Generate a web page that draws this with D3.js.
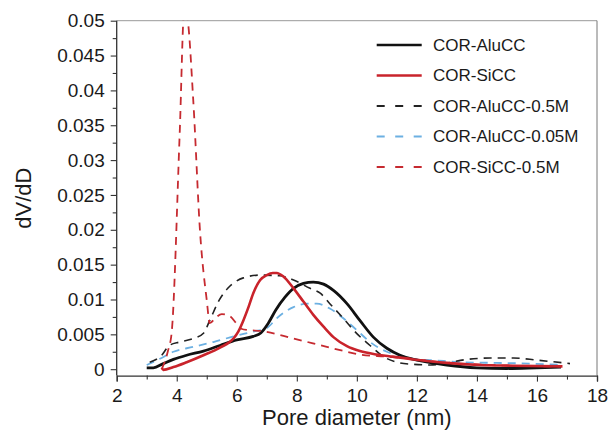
<!DOCTYPE html>
<html><head><meta charset="utf-8">
<script src="https://cdn.jsdelivr.net/npm/d3@7"></script>
<style>body{margin:0;background:#fff}svg{display:block}text{font-family:"Liberation Sans",Arial,sans-serif;fill:#1a1a1a}</style>
</head><body><svg id="c" width="609" height="430"></svg>
<script>
const seriesNames = ["COR-AluCC","COR-SiCC","COR-AluCC-0.5M","COR-AluCC-0.05M","COR-SiCC-0.5M"];
const seriesColors = ["#111111","#c9232b","#222222","#6cb0e2","#c62a30"];
const xTicks = [2,4,6,8,10,12,14,16,18];
const yTicks = [0,0.005,0.01,0.015,0.02,0.025,0.03,0.035,0.04,0.045,0.05];
const yTickLabels = ["0","0.005","0.01","0.015","0.02","0.025","0.03","0.035","0.04","0.045","0.05"];

const aluCC_x = [3.0,3.22,3.55,3.89,4.33,4.89,5.44,6.0,6.55,6.8,7.05,7.3,7.6,7.89,8.22,8.55,8.89,9.22,9.67,10.1,10.55,11.0,11.44,11.89,12.0,13.0,14.0,15.0,16.0,16.8];
const aluCC_y = [0.0002,0.0002,0.0008,0.0014,0.002,0.0026,0.0034,0.0042,0.0047,0.0052,0.0066,0.0085,0.0103,0.0116,0.0123,0.0125,0.0122,0.0113,0.0094,0.007,0.0046,0.003,0.002,0.0014,0.0013,0.0006,0.0002,0.0001,0.0002,0.0003];

const siCC_x = [3.5,3.55,3.89,4.33,4.89,5.44,5.89,6.05,6.22,6.39,6.55,6.78,7.0,7.2,7.33,7.55,7.89,8.22,8.55,8.89,9.22,9.67,10.1,10.67,11.2,11.9,13.0,14.1,15.2,16.85];
const siCC_y = [0.0002,-0.0001,0.0003,0.001,0.002,0.0031,0.0044,0.0054,0.007,0.0089,0.0109,0.0128,0.0135,0.0138,0.0138,0.0133,0.0116,0.0097,0.0078,0.0061,0.0046,0.0033,0.0026,0.0021,0.0018,0.0014,0.0009,0.0006,0.0005,0.0004];

const alu05_x = [3.1,3.5,3.75,4.1,4.55,4.9,5.1,5.4,5.7,6.22,6.78,7.44,7.89,8.44,8.78,9.1,9.55,10.0,10.44,10.89,11.44,11.9,12.44,13.0,13.66,14.44,15.22,16.0,17.1];
const alu05_y = [0.001,0.002,0.0034,0.0039,0.0044,0.0052,0.007,0.0098,0.0116,0.0131,0.0135,0.0134,0.0128,0.0116,0.0109,0.0094,0.0073,0.0051,0.0034,0.0018,0.0009,0.0007,0.0006,0.0009,0.0014,0.0016,0.0016,0.0013,0.0008];

const alu005_x = [3.0,3.44,3.89,4.55,5.22,5.89,6.55,7.0,7.33,7.89,8.33,8.66,9.1,9.55,10.0,10.44,11.0,11.44,12.0,12.44,13.55,14.66,15.77,16.85];
const alu005_y = [0.0006,0.0015,0.0025,0.0032,0.0039,0.0047,0.0054,0.0059,0.0073,0.0089,0.0094,0.0094,0.0087,0.0073,0.0056,0.0039,0.0025,0.002,0.0014,0.0013,0.001,0.0009,0.0008,0.0006];

const si05_x = [3.5,3.7,3.83,4.1,4.25,4.35,4.55,4.78,5.0,5.1,5.3,5.5,5.77,6.0,6.15,6.4,6.78,7.89,9.0,9.67,10.1,11.0,12.0,13.0,14.0,15.0,16.8];
const si05_y = [0.0,0.0025,0.0052,0.034,0.0515,0.0505,0.0386,0.0195,0.0099,0.0066,0.0074,0.0079,0.0076,0.0065,0.0058,0.0056,0.0055,0.0044,0.0032,0.0025,0.0021,0.0018,0.0014,0.0009,0.0007,0.0005,0.0004];

const seriesX = [aluCC_x, siCC_x, alu05_x, alu005_x, si05_x];
const seriesY = [aluCC_y, siCC_y, alu05_y, alu005_y, si05_y];
const seriesDash = [null, null, "8,6", "8,6", "8,6"];
const seriesWidth = [2.8, 2.6, 1.6, 1.8, 1.8];

const svg = d3.select("#c");
const L = 116.7, R = 597, T = 20.7, B = 375.6;
const x = d3.scaleLinear().domain([2,18]).range([L,R]);
const y = d3.scaleLinear().domain([-0.00092,0.05]).range([B,T]);

svg.append("line").attr("x1",L).attr("x2",R).attr("y1",T).attr("y2",T).attr("stroke","#999").attr("stroke-width",1);
svg.append("line").attr("x1",R).attr("x2",R).attr("y1",T).attr("y2",B).attr("stroke","#777").attr("stroke-width",1);

svg.append("clipPath").attr("id","clip").append("rect").attr("x",L).attr("y",T).attr("width",R-L).attr("height",B-T);

const g = svg.append("g").attr("clip-path","url(#clip)");
const line = d3.line().x(d=>x(d[0])).y(d=>y(d[1])).curve(d3.curveMonotoneX);
const order = [3,2,0,4,1];
order.forEach(i=>{
  const pts = seriesX[i].map((v,k)=>[v, seriesY[i][k]]);
  g.append("path").datum(pts).attr("d",line).attr("fill","none")
   .attr("stroke",seriesColors[i]).attr("stroke-width",seriesWidth[i])
   .attr("stroke-dasharray",seriesDash[i]).attr("stroke-linejoin","round");
});

const xAxis = d3.axisBottom(x).tickValues(xTicks).tickSize(6).tickPadding(7).tickFormat(d3.format("d"));
const xMinor = d3.axisBottom(x).tickValues([3,5,7,9,11,13,15,17]).tickSize(4).tickFormat("");
const yAxis = d3.axisLeft(y).tickValues(yTicks).tickSize(6).tickPadding(6).tickFormat((d,i)=>yTickLabels[i]);
const yMinor = d3.axisLeft(y).tickValues(yTicks.slice(0,-1).map(v=>v+0.0025)).tickSize(4).tickFormat("");

function styleAxis(sel){
  sel.select(".domain").attr("stroke","#333").attr("stroke-width",1.3);
  sel.selectAll(".tick line").attr("stroke","#333").attr("stroke-width",1.1);
  sel.selectAll("text").style("font-size","19px").attr("fill","#1a1a1a").style("font-family","'Liberation Sans',Arial,sans-serif");
}
const gx = svg.append("g").attr("transform",`translate(0,${B})`).call(xAxis); styleAxis(gx);
const gxm = svg.append("g").attr("transform",`translate(0,${B})`).call(xMinor); styleAxis(gxm);
const gy = svg.append("g").attr("transform",`translate(${L},0)`).call(yAxis); styleAxis(gy);
const gym = svg.append("g").attr("transform",`translate(${L},0)`).call(yMinor); styleAxis(gym);
gy.select(".domain").attr("d",`M-0,${B}V${T}`);
gym.select(".domain").remove(); gxm.select(".domain").remove();

svg.append("text").attr("x",(L+R)/2).attr("y",425).attr("text-anchor","middle").style("font-size","22px").text("Pore diameter (nm)");
svg.append("text").attr("transform",`translate(31,${(T+B)/2}) rotate(-90)`).attr("text-anchor","middle").style("font-size","22px").text("dV/dD");

const legY = [45,75.5,106,136.5,167];
const lg = svg.append("g");
seriesNames.forEach((n,i)=>{
  lg.append("line").attr("x1",376.7).attr("x2",421.7).attr("y1",legY[i]).attr("y2",legY[i])
    .attr("stroke",seriesColors[i]).attr("stroke-width",seriesDash[i]?1.8:2.6)
    .attr("stroke-dasharray",seriesDash[i]?"8,10.5":null);
  lg.append("text").attr("x",433).attr("y",legY[i]).attr("dy","0.35em").style("font-size","17px").text(n);
});
</script></body></html>
